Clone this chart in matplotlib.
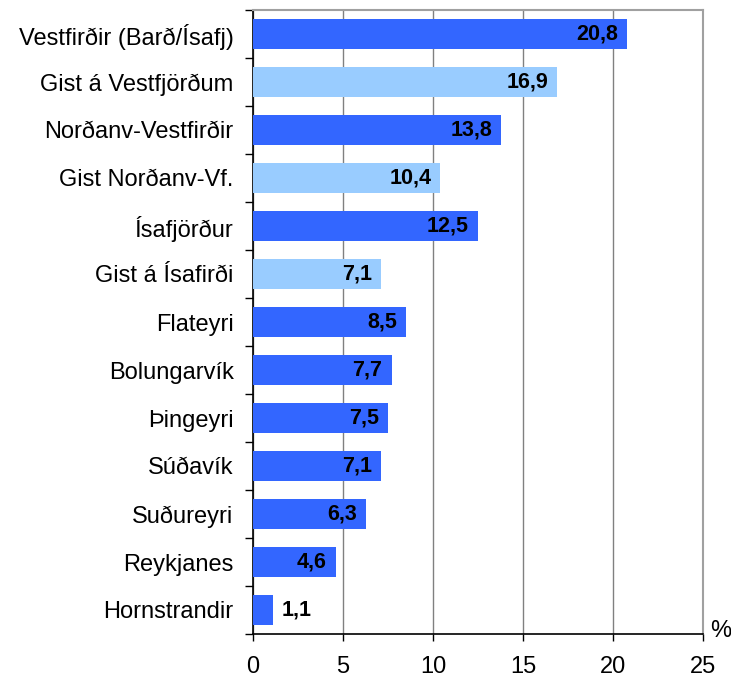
import matplotlib.pyplot as plt
import numpy as np

plt.rcParams['font.family'] = ['Liberation Sans', 'DejaVu Sans']

# categories top to bottom
places = ['Vestfirðir (Barð/Ísafj)', 'Gist á Vestfjörðum', 'Norðanv-Vestfirðir',
          'Gist Norðanv-Vf.', 'Ísafjörður', 'Gist á Ísafirði', 'Flateyri',
          'Bolungarvík', 'Þingeyri', 'Súðavík', 'Suðureyri', 'Reykjanes',
          'Hornstrandir']
values = [20.8, 16.9, 13.8, 10.4, 12.5, 7.1, 8.5, 7.7, 7.5, 7.1, 6.3, 4.6, 1.1]
is_gist = [False, True, False, True, False, True, False, False, False, False,
           False, False, False]

dark = '#3366FF'
light = '#99CCFF'

fig = plt.figure(figsize=(7.31, 6.82), dpi=100)
ax = fig.add_axes([253 / 731, 1 - 634 / 682, 450 / 731, 624 / 682])

n = len(places)
ypos = np.arange(n)
colors = [light if g else dark for g in is_gist]
ax.barh(ypos, values, height=0.625, color=colors, zorder=3)

ax.set_xlim(0, 25)
ax.set_ylim(n - 0.5, -0.5)

# gridlines
ax.set_xticks([0, 5, 10, 15, 20, 25])
ax.set_xticklabels(['0', '5', '10', '15', '20', '25'], fontsize=17)
ax.xaxis.grid(True, color='#808080', linewidth=1, zorder=0)
ax.tick_params(axis='x', direction='out', length=5, width=1, pad=11)

# y ticks at category boundaries, labels at centres
ax.set_yticks(np.arange(n + 1) - 0.5)
ax.set_yticklabels([])
ax.set_yticks(ypos, minor=True)
ax.set_yticklabels(places, minor=True, fontsize=17)
ax.tick_params(axis='y', which='major', direction='out', length=6, width=1)
ax.tick_params(axis='y', which='minor', length=0, pad=14)

for side in ['top', 'right']:
    ax.spines[side].set_color('#A0A0A0')
    ax.spines[side].set_linewidth(1.5)
for side in ['left', 'bottom']:
    ax.spines[side].set_color('black')
    ax.spines[side].set_linewidth(1.2)

for y, v in zip(ypos, values):
    txt = f'{v:.1f}'.replace('.', ',')
    if v > 3:
        ax.annotate(txt, (v, y), xytext=(-9, 0), textcoords='offset pixels',
                    ha='right', va='center', fontsize=15.5, fontweight='bold',
                    zorder=4)
    else:
        ax.annotate(txt, (v, y), xytext=(9, 0), textcoords='offset pixels',
                    ha='left', va='center', fontsize=15.5, fontweight='bold',
                    zorder=4)

fig.text(710 / 731, 1 - 631 / 682, '%', fontsize=17, ha='left', va='center')

fig.savefig('out.png', dpi=100)
